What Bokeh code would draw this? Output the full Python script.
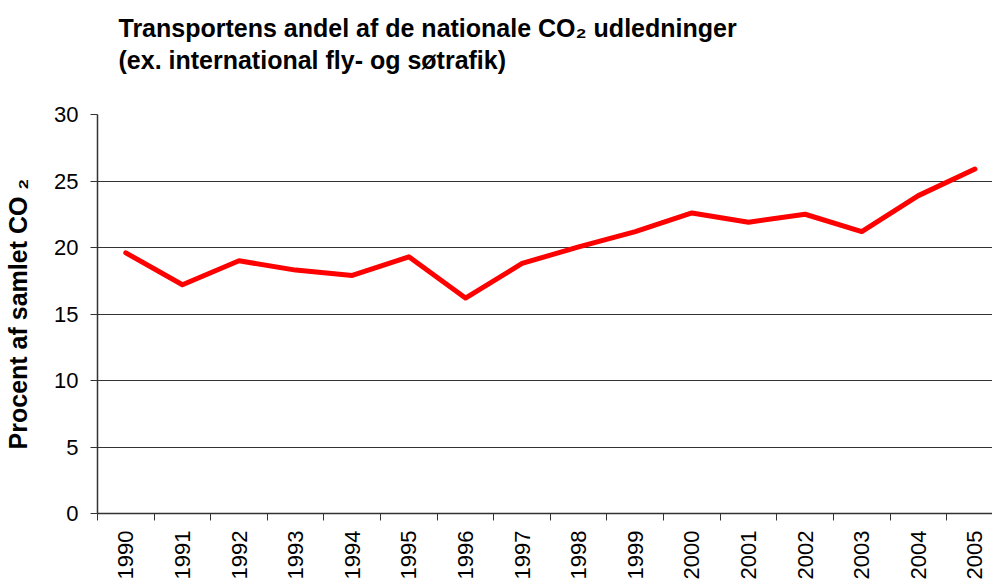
import math
from bokeh.plotting import figure
from bokeh.models import Range1d, FixedTicker, Grid, Title, ColumnDataSource
from bokeh.embed import file_html
from bokeh.resources import INLINE

# ---- data ----
years = [1990, 1991, 1992, 1993, 1994, 1995, 1996, 1997,
         1998, 1999, 2000, 2001, 2002, 2003, 2004, 2005]
share = [19.6, 17.2, 19.0, 18.3, 17.9, 19.3, 16.2, 18.8,
         20.05, 21.2, 22.6, 21.9, 22.5, 21.2, 23.9, 25.9]
y_ticks = [0, 5, 10, 15, 20, 25, 30]
title_lines = ["Transportens andel af de nationale CO\u2082 udledninger",
               "(ex. international fly- og s\u00f8trafik)"]
y_label = "Procent af samlet CO \u2082"

FONT = "Liberation Sans"

p = figure(width=992, height=583, output_backend="svg", toolbar_location=None,
           x_range=Range1d(years[0] - 0.5, years[-1] + 0.31),
           y_range=Range1d(0, 30),
           min_border_left=97, min_border_right=0,
           min_border_top=114, min_border_bottom=70)
p.title = None
p.outline_line_color = None
p.background_fill_color = "white"
p.border_fill_color = "white"

# second line nearest the frame, first line above it
for line, gap in ((title_lines[1], 82), (title_lines[0], -79)):
    p.add_layout(Title(text=line, text_font=FONT, text_font_size="25px",
                       text_font_style="bold", text_color="black", align="left",
                       offset=21, standoff=gap), "above")

src = ColumnDataSource(data=dict(x=years, y=share))
p.line("x", "y", source=src, line_color="#FF0000", line_width=5,
       line_cap="round", line_join="round")

# x axis
xa = p.xaxis[0]
xa.ticker = FixedTicker(ticks=years, minor_ticks=[y - 0.5 for y in years] + [years[-1] + 0.5])
xa.major_tick_out = 0
xa.major_tick_in = 0
xa.minor_tick_out = 7
xa.minor_tick_in = 0
xa.minor_tick_line_color = "#333333"
xa.minor_tick_line_width = 1
xa.axis_line_color = "#333333"
xa.axis_line_width = 1.5
xa.major_label_orientation = math.pi / 2
xa.major_label_standoff = 10
xa.major_label_text_font = FONT
xa.major_label_text_font_size = "22px"
xa.major_label_text_color = "black"

# y axis
ya = p.yaxis[0]
ya.ticker = FixedTicker(ticks=y_ticks)
ya.major_tick_out = 7
ya.major_tick_in = 0
ya.minor_tick_out = 0
ya.minor_tick_in = 0
ya.major_tick_line_color = "#333333"
ya.axis_line_color = "#333333"
ya.axis_line_width = 1.5
ya.major_label_standoff = 12
ya.major_label_text_font = FONT
ya.major_label_text_font_size = "22px"
ya.major_label_text_color = "black"
ya.axis_label = y_label
ya.axis_label_text_font = FONT
ya.axis_label_text_font_size = "25px"
ya.axis_label_text_font_style = "bold"
ya.axis_label_text_color = "black"
ya.axis_label_standoff = 19

# grids
p.xgrid.visible = False
p.ygrid.ticker = FixedTicker(ticks=y_ticks[1:-1])
p.ygrid.grid_line_color = "#333333"
p.ygrid.grid_line_width = 1
top = Grid(dimension=1, ticker=FixedTicker(ticks=[y_ticks[-1]]),
           grid_line_color="#888888", grid_line_width=1.5)
p.add_layout(top)

open("out.html", "w").write(file_html(p, INLINE))
